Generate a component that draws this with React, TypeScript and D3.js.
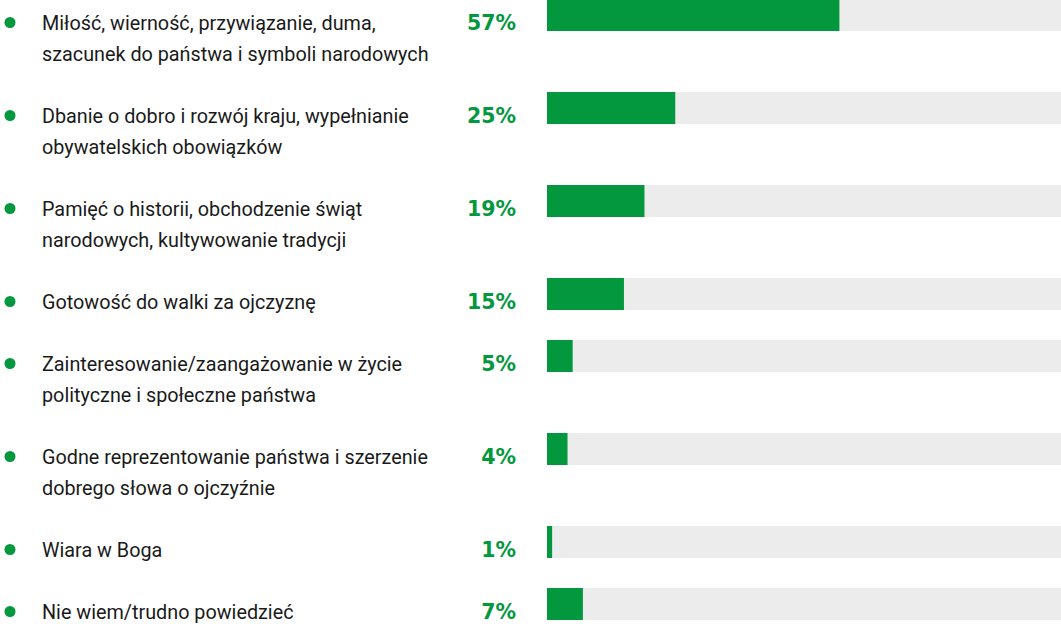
import React from "react";
import * as d3 from "d3";

const categories: string[][] = [
  ["Miłość, wierność, przywiązanie, duma,", "szacunek do państwa i symboli narodowych"],
  ["Dbanie o dobro i rozwój kraju, wypełnianie", "obywatelskich obowiązków"],
  ["Pamięć o historii, obchodzenie świąt", "narodowych, kultywowanie tradycji"],
  ["Gotowość do walki za ojczyznę"],
  ["Zainteresowanie/zaangażowanie w życie", "polityczne i społeczne państwa"],
  ["Godne reprezentowanie państwa i szerzenie", "dobrego słowa o ojczyźnie"],
  ["Wiara w Boga"],
  ["Nie wiem/trudno powiedzieć"],
];
const values: number[] = [57, 25, 19, 15, 5, 4, 1, 7];

const W = 1061;
const H = 624;
const GREEN = "#03983e";
const TRACK = "#ececec";
const LINE_H = 31;
const GAP = 31;
const FIRST_BASELINE = 30;
const BAR_X0 = 547;
const BAR_H = 32;

export default function App() {
  const x = d3.scaleLinear().domain([0, 100]).range([BAR_X0, 1060]);

  const baselines: number[] = [];
  let b = FIRST_BASELINE;
  categories.forEach((lines) => {
    baselines.push(b);
    b += lines.length * LINE_H + GAP;
  });

  return (
    <svg
      width={W}
      height={H}
      style={{ position: "absolute", left: 0, top: 0, background: "#fff" }}
    >
      {categories.map((lines, i) => {
        const base = baselines[i];
        return (
          <g key={i}>
            <circle cx={10} cy={base - 7.5} r={5.5} fill={GREEN} />
            <text
              x={42}
              y={base}
              fontFamily="Roboto, 'Noto Sans', sans-serif"
              fontSize={19.8}
              fill="#1a1a1a"
            >
              {lines.map((l, j) => (
                <tspan key={j} x={42} y={base + j * LINE_H}>
                  {l}
                </tspan>
              ))}
            </text>
            <text
              x={516}
              y={base}
              textAnchor="end"
              fontFamily="'DejaVu Sans', sans-serif"
              fontWeight="bold"
              fontSize={20.5}
              fill={GREEN}
            >
              {values[i]}%
            </text>
            <rect x={BAR_X0} y={base - BAR_H + 1} width={W - BAR_X0} height={BAR_H} fill={TRACK} />
            <rect x={x(0)} y={base - BAR_H + 1} width={x(values[i]) - x(0)} height={BAR_H} fill={GREEN} />
          </g>
        );
      })}
    </svg>
  );
}
